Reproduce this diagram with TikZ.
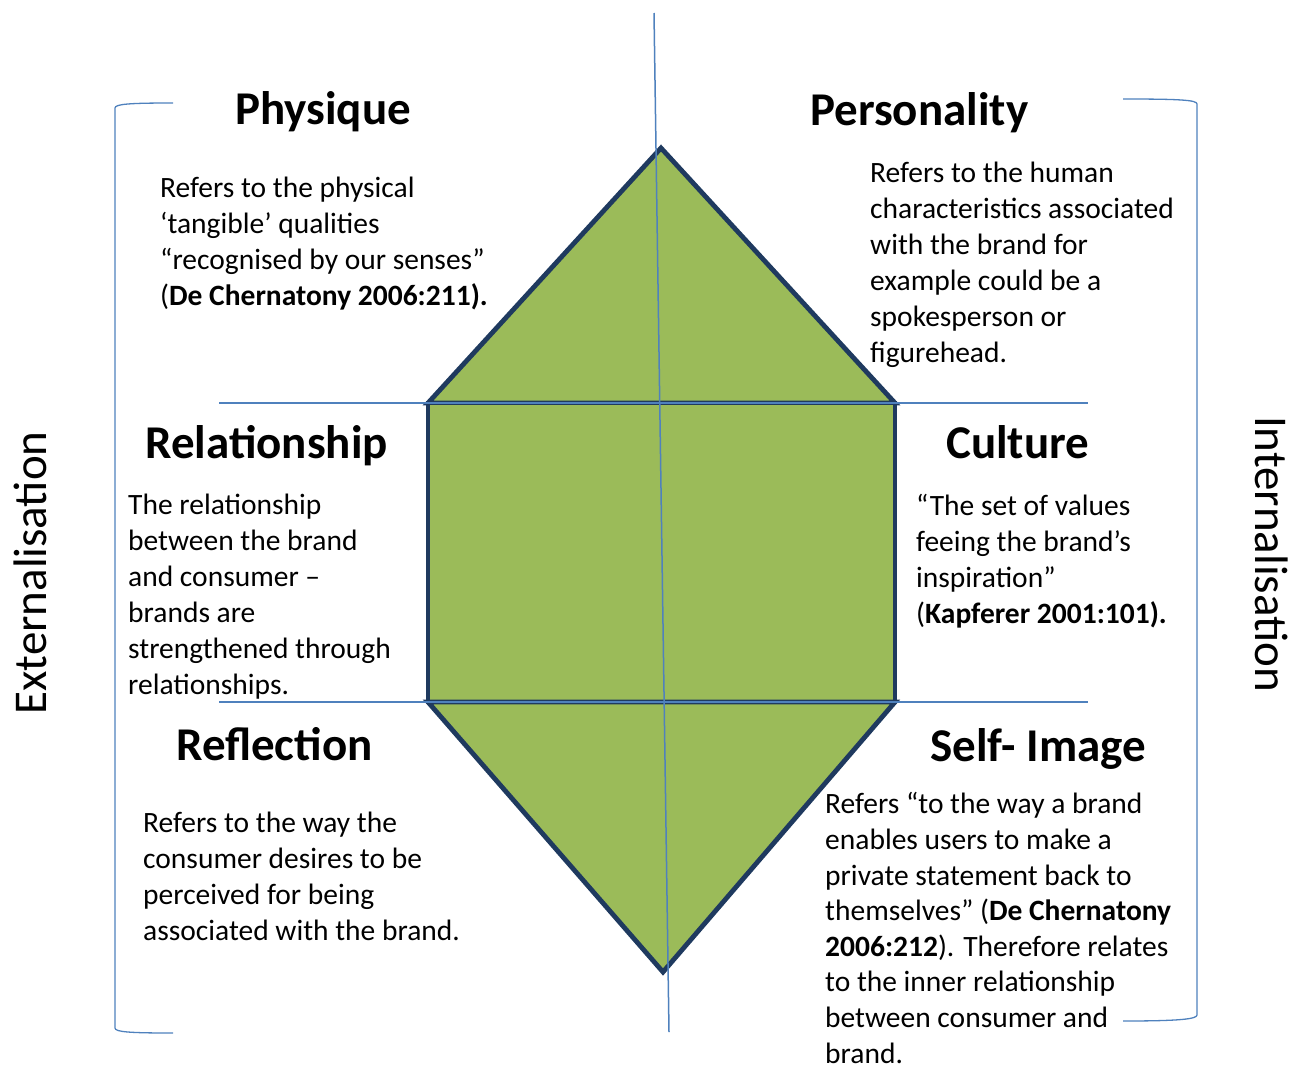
\documentclass[tikz,border=0pt]{standalone}
\usepackage{fontspec}
\setmainfont{Carlito}
\usepackage{tikz}
\usetikzlibrary{positioning,calc}

\definecolor{prismgreen}{HTML}{9BBB59}
\definecolor{prismedge}{HTML}{1F3A5F}
\definecolor{guideblue}{HTML}{4F81BD}

\tikzset{
  facet/.style={fill=prismgreen, draw=prismedge, line width=4.8pt, line join=miter},
  guide/.style={draw=guideblue, line width=1.5pt},
  heading/.style={font=\fontsize{47}{56}\selectfont\bfseries, anchor=base west, inner sep=0pt},
  % multi-line nodes: base anchor sits on the last line
  body/.style={font=\fontsize{29.5}{36}\selectfont, align=left, anchor=base west, inner sep=0pt},
  side/.style={font=\fontsize{47}{56}\selectfont, inner sep=0pt}
}

\begin{document}
\begin{tikzpicture}[x=1pt, y=-1pt]
\useasboundingbox (0,0) rectangle (1305,1068);

% prism corners
\coordinate (top) at (661,148);
\coordinate (ul) at (428,403);
\coordinate (ur) at (895,403);
\coordinate (ll) at (428,702);
\coordinate (lr) at (895,702);
\coordinate (bot) at (663,972);

% prism facets
\draw[facet] (top) -- (ur) -- (ul) -- cycle;
\draw[facet] (ul) rectangle (lr);
\draw[facet] (ll) -- (lr) -- (bot) -- cycle;

% guide lines
\coordinate (vtop) at (654,13);
\coordinate (vbot) at (669,1032);
\coordinate (hul) at (219,403);
\coordinate (hur) at (1088,403);
\coordinate (hll) at (219,702);
\coordinate (hlr) at (1088,702);
\draw[guide] (hul) -- (hur);
\draw[guide] (hll) -- (hlr);
\draw[guide] (vtop) -- (vbot);

% brackets
\coordinate (lbt) at (173,103);
\coordinate (lbb) at (173,1033);
\coordinate (rbt) at (1123,99);
\coordinate (rbb) at (1123,1021);
\draw[guide, line width=1.3pt] (lbt) .. controls (130,103) and (115,104) .. (115,108)
  -- (115,1028) .. controls (115,1032) and (130,1033) .. (lbb);
\draw[guide, line width=1.3pt] (rbt) .. controls (1180,99) and (1197,100) .. (1197,104)
  -- (1197,1015) .. controls (1197,1019) and (1180,1021) .. (rbb);

% side labels
\node[side, rotate=90] (ext) at (30,573) {Externalisation};
\node[side, rotate=-90] (int) at (1272,554) {Internalisation};

% headings
\node[heading] (physique) at (235,124) {Physique};
\node[heading] (personality) at (810,125) {Personality};
\node[heading] (relationship) at (145,458) {Relationship};
\node[heading] (culture) at (946,458) {Culture};
\node[heading] (reflection) at (176,760) {Reflection};
\node[heading] (selfimage) at (930,761) {Self- Image};

% descriptions (placed at the baseline of their last line)
\node[body] (physiquetxt) at (160,305) {Refers to the physical\\
  ‘tangible’ qualities\\
  “recognised by our senses”\\
  (\textbf{De Chernatony 2006:211).}};
\node[body] (personalitytxt) at (870,362) {Refers to the human\\
  characteristics associated\\
  with the brand for\\
  example could be a\\
  spokesperson or\\
  figurehead.};
\node[body] (relationshiptxt) at (128,694) {The relationship\\
  between the brand\\
  and consumer –\\
  brands are\\
  strengthened through\\
  relationships.};
\node[body] (culturetxt) at (916,623) {“The set of values\\
  feeing the brand’s\\
  inspiration”\\
  (\textbf{Kapferer 2001:101).}};
\node[body] (reflectiontxt) at (143,940) {Refers to the way the\\
  consumer desires to be\\
  perceived for being\\
  associated with the brand.};
\node[body, font=\fontsize{29.5}{35.6}\selectfont] (selfimagetxt) at (825,1063) {Refers “to the way a brand\\
  enables users to make a\\
  private statement back to\\
  themselves” (\textbf{De Chernatony}\\
  \textbf{2006:212}). Therefore relates\\
  to the inner relationship\\
  between consumer and\\
  brand.};
\end{tikzpicture}
\end{document}
